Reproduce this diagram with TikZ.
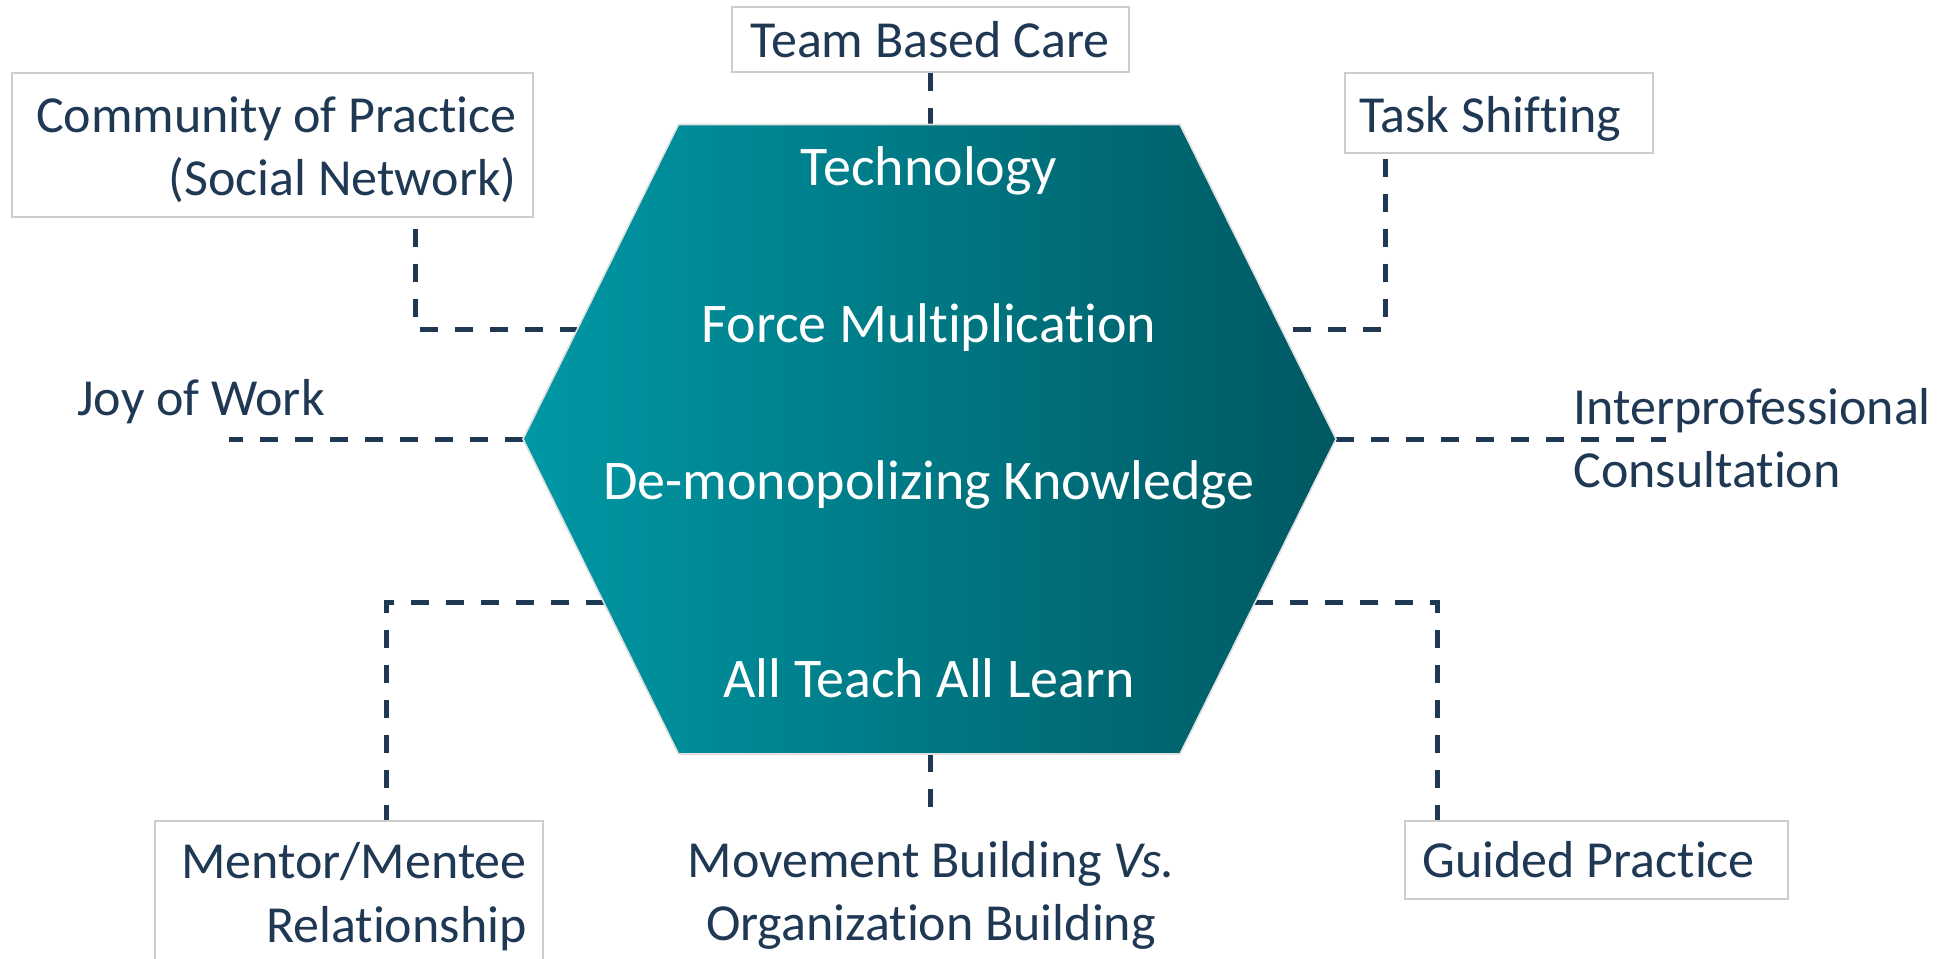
\documentclass[tikz,border=0pt]{standalone}
\usepackage{fontspec}
\setmainfont{Carlito}[Ligatures=NoCommon]
\definecolor{lblnavy}{RGB}{31,56,84}
\definecolor{boxgray}{RGB}{205,205,205}
\definecolor{hexleft}{RGB}{0,152,165}
\definecolor{hexright}{RGB}{0,88,98}
\begin{document}
\begin{tikzpicture}[x=0.5pt,y=-0.5pt,
  lbl/.style={inner sep=0pt, text=lblnavy, font=\fontsize{26}{31.5}\selectfont},
  hexlbl/.style={inner sep=0pt, text=white, font=\fontsize{28}{34}\selectfont, anchor=base},
  lbox/.style={draw=boxgray, line width=0.6pt, fill=white, inner sep=0pt, rectangle},
  conn/.style={draw=lblnavy, line width=2.5pt, dash pattern=on 9pt off 8.5pt}]
\useasboundingbox (0,0) rectangle (1952,958);
\fill[white] (0,0) rectangle (1952,958);

% hexagon corners and connection points
\coordinate (hTL) at (678.5,124.5);
\coordinate (hTR) at (1180,124.5);
\coordinate (hR) at (1336,439);
\coordinate (hBR) at (1180,754);
\coordinate (hBL) at (678.5,754);
\coordinate (hL) at (523,439);
\coordinate (hTop) at (930.5,124.5);
\coordinate (hBot) at (930.5,754);
\coordinate (hUL) at (577.4,329);
\coordinate (hUR) at (1281.4,329);
\coordinate (hLL) at (603.5,602);
\coordinate (hLR) at (1255.3,602);
\coordinate (joyend) at (229,439);
\coordinate (ipend) at (1666,439);
\coordinate (mvend) at (930.5,820);

% boxes
\node[lbox, minimum width=198.5pt, minimum height=32.5pt] (tbcbox) at (930.5,39.5) {};
\node[lbox, minimum width=260.5pt, minimum height=72pt] (copbox) at (272.5,145) {};
\node[lbox, minimum width=154pt, minimum height=40pt] (tsbox) at (1499,113) {};
\node[lbox, minimum width=194pt, minimum height=72pt] (mmbox) at (349,893) {};
\node[lbox, minimum width=191.5pt, minimum height=39pt] (gpbox) at (1596.5,860) {};

% connectors
\draw[conn] (tbcbox.south) -- (hTop);
\draw[conn, shorten <=5.5pt] ([xshift=202pt]copbox.south west) |- (hUL);
\draw[conn, shorten <=2.5pt] ([xshift=20.5pt]tsbox.south west) |- (hUR);
\draw[conn] (hL) -- (joyend);
\draw[conn] (hR) -- (ipend);
\draw[conn] (hLL) -| ([xshift=116pt]mmbox.north west);
\draw[conn] (hLR) -| ([xshift=16.5pt]gpbox.north west);
\draw[conn] (hBot) -- (mvend);

% hexagon
\shadedraw[left color=hexleft, right color=hexright, draw=black!12, line width=0.8pt]
  (hTL) -- (hTR) -- (hR) -- (hBR) -- (hBL) -- (hL) -- cycle;
\node[hexlbl] (tech) at (929,185.5) {Technology};
\node[hexlbl] (force) at (929,342) {Force Multiplication};
\node[hexlbl] (demono) at (929,499.4) {De-monopolizing Knowledge};
\node[hexlbl] (atal) at (929,697) {All Teach All Learn};

% labels
\node[lbl, anchor=base] (tbc) at (930,57) {Team Based Care};
\node[lbl, anchor=base east] (cop1) at (517,132) {Community of Practice};
\node[lbl, anchor=base east] (cop2) at (517,195) {(Social Network)};
\node[lbl, anchor=base west] (ts) at (1359,132) {Task Shifting};
\node[lbl, anchor=base west] (joy) at (77,415) {Joy of Work};
\node[lbl, anchor=base west] (ip1) at (1573,424) {Interprofessional};
\node[lbl, anchor=base west] (ip2) at (1573,487) {Consultation};
\node[lbl, anchor=base east] (mm1) at (527,878) {Mentor/Mentee};
\node[lbl, anchor=base east] (mm2) at (527,942) {Relationship};
\node[lbl, anchor=base] (mv1) at (931,877) {Movement Building \textit{Vs.}};
\node[lbl, anchor=base] (mv2) at (931,940) {Organization Building};
\node[lbl, anchor=base west] (gp) at (1422,877) {Guided Practice};
\end{tikzpicture}
\end{document}
